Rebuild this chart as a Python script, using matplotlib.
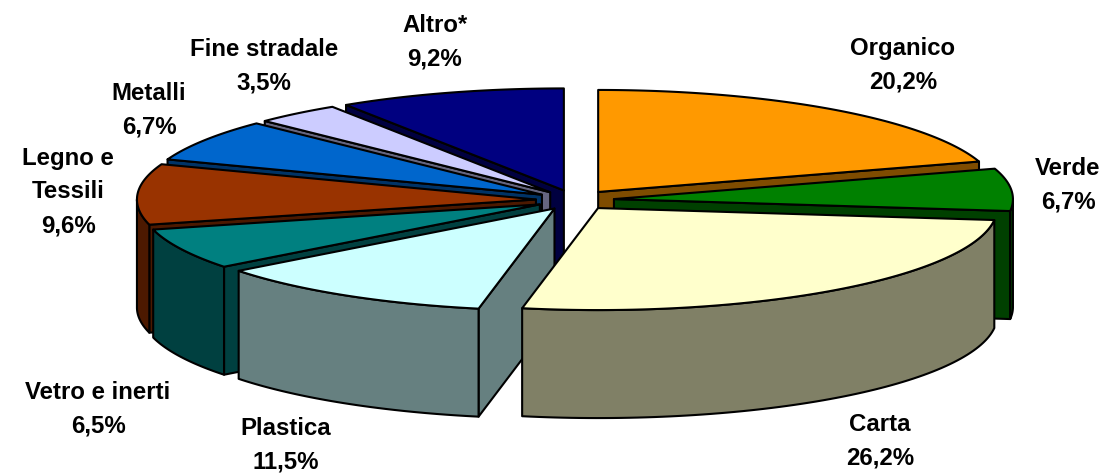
"""3D exploded pie of waste composition, drawn with polygons."""
import numpy as np
import matplotlib

matplotlib.use("Agg")
import matplotlib.pyplot as plt
from matplotlib.patches import Polygon

names = ["Organico", "Verde", "Carta", "Plastica", "Vetro e inerti",
         "Legno e\nTessili", "Metalli", "Fine stradale", "Altro*"]
shares = [20.2, 6.7, 26.2, 11.5, 6.5, 9.6, 6.7, 3.5, 9.2]
top_colors = ["#FF9900", "#008000", "#FFFFCC", "#CCFFFF", "#008080",
              "#993300", "#0066CC", "#CCCCFF", "#000080"]
side_colors = ["#7F4C00", "#004000", "#808066", "#668080", "#004040",
               "#4C1900", "#003366", "#666680", "#000040"]
label_xy = [(903, 65), (1068, 185), (880, 441), (286, 445), (98, 409),
            (68, 192), (149, 110), (264, 66), (435, 42)]
# back to front, Carta goes over the Plastica wall
draw_order = [8, 0, 7, 6, 1, 5, 4, 3, 2]

# pie geometry, in pixels of the figure
cx, cy = 575, 200
rx, ry = 399, 102
depth = 108
explode = 0.098


def rim(angles, ox, oy, drop=0):
    # angles in degrees, clockwise from 12 o'clock
    t = np.radians(angles)
    return np.column_stack([ox + rx * np.sin(t), oy - ry * np.cos(t) + drop])


def add_poly(ax, pts, color):
    ax.add_patch(Polygon(pts, closed=True, facecolor=color, edgecolor="black",
                         linewidth=1.5, joinstyle="round"))


def draw_slice(ax, a0, a1, top, side):
    mid = np.radians((a0 + a1) / 2)
    ox = cx + explode * rx * np.sin(mid)
    oy = cy - explode * ry * np.cos(mid)

    # radial walls, only those facing the viewer
    for a, facing in ((a0, np.sin(np.radians(a0)) < 0), (a1, np.sin(np.radians(a1)) > 0)):
        if facing:
            edge = rim([a], ox, oy)[0]
            add_poly(ax, [(ox, oy), edge, edge + (0, depth), (ox, oy + depth)], side)

    # outer wall only on the front half of the ellipse
    lo, hi = max(a0, 90), min(a1, 270)
    if hi > lo:
        arc = np.linspace(lo, hi, 80)
        add_poly(ax, np.vstack([rim(arc, ox, oy), rim(arc[::-1], ox, oy, depth)]), side)

    arc = np.linspace(a0, a1, 120)
    add_poly(ax, np.vstack([[(ox, oy)], rim(arc, ox, oy)]), top)


fig = plt.figure(figsize=(11.09, 4.74), dpi=100)
ax = fig.add_axes([0, 0, 1, 1])
ax.set_xlim(0, 1109)
ax.set_ylim(474, 0)
ax.axis("off")

edges = np.concatenate([[0], np.cumsum(shares)]) / sum(shares) * 360
for i in draw_order:
    draw_slice(ax, edges[i], edges[i + 1], top_colors[i], side_colors[i])

for name, share, (x, y) in zip(names, shares, label_xy):
    text = f"{name}\n{share:.1f}%".replace(".", ",")
    ax.text(x, y, text, ha="center", va="center", family="Liberation Sans",
            fontweight="bold", fontsize=17.3, linespacing=1.6, color="black")

fig.savefig("out.png", dpi=100)
